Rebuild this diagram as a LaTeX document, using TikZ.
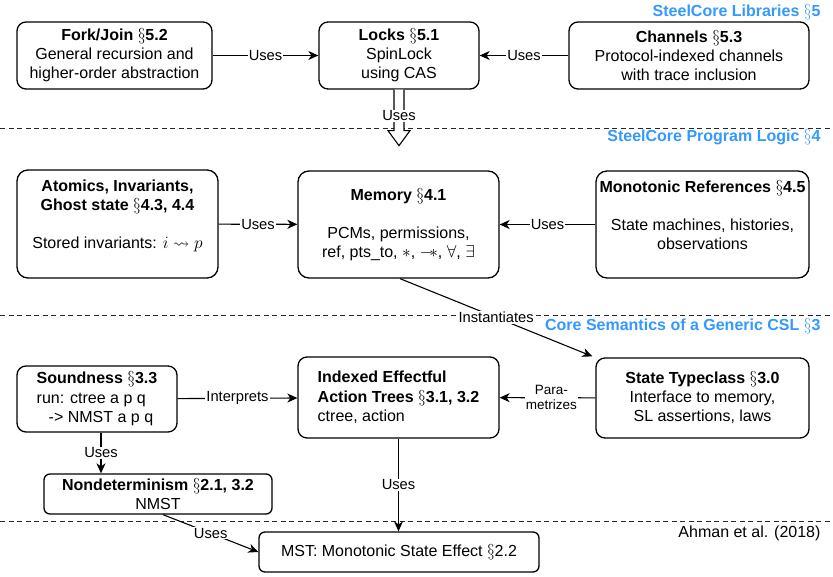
\documentclass[tikz,border=0pt]{standalone}
\usepackage{amssymb}
\usepackage{fontspec}
\setmainfont{Liberation Sans}
\usetikzlibrary{arrows.meta,calc}
\definecolor{hdrblue}{RGB}{51,153,255}
\begin{document}
\begin{tikzpicture}[x=1pt,y=-1pt,
  box/.style={draw, line width=1.3pt, rounded corners=9pt, inner sep=0pt, align=center,
    font=\fontsize{16}{19}\selectfont},
  smallbox/.style={box, rounded corners=6pt},
  edge/.style={line width=1.1pt, -{Stealth[length=10pt,width=9pt,inset=3pt]}},
  lbl/.style={fill=white, inner sep=1pt, font=\fontsize{14.7}{17}\selectfont},
  slbl/.style={fill=white, inner sep=1pt, align=center, font=\fontsize{13.5}{15}\selectfont},
  hdr/.style={anchor=east, text=hdrblue, font=\fontsize{16}{19}\selectfont\bfseries},
  sep/.style={line width=0.9pt, dash pattern=on 5pt off 3.5pt, black!85},
]
\useasboundingbox (0,0) rectangle (833,577);

% layer separators
\draw[sep] (0,128) -- (833,128);
\draw[sep] (0,315) -- (833,315);
\draw[sep] (0,521) -- (833,521);

% layer headers
\node[hdr] (h1) at (824,12) {SteelCore Libraries $\S$5};
\node[hdr] (h2) at (824,137) {SteelCore Program Logic $\S$4};
\node[hdr] (h3) at (824,326) {Core Semantics of a Generic CSL $\S$3};
\node[anchor=east, font=\fontsize{16}{19}\selectfont] (h4) at (824,533) {Ahman et al. (2018)};

% row 1
\node[box, minimum width=195, minimum height=67] (fork) at (114.5,55.5)
  {\textbf{Fork/Join $\S$5.2}\\General recursion and\\higher-order abstraction};
\node[box, minimum width=160, minimum height=67] (locks) at (399,55.5)
  {\textbf{Locks $\S$5.1}\\SpinLock\\using CAS};
\node[box, minimum width=240, minimum height=67] (channels) at (689,55.5)
  {\textbf{Channels $\S$5.3}\\Protocol-indexed channels\\with trace inclusion};

% row 2
\node[box, rounded corners=11pt, minimum width=201, minimum height=108] (atomics) at (117.5,224)
  {\textbf{Atomics, Invariants,}\\\textbf{Ghost state $\S$4.3, 4.4}\\\mbox{}\\Stored invariants: $i \rightsquigarrow p$\\\mbox{}};
\node[box, rounded corners=11pt, minimum width=201, minimum height=107] (memory) at (398.5,224.5)
  {\textbf{Memory $\S$4.1}\\\mbox{}\\PCMs, permissions,\\ref, pts\_to, $\ast$, $-\mkern-4mu\ast$, $\forall$, $\exists$};
\node[box, rounded corners=11pt, minimum width=213, minimum height=107] (mono) at (702.5,224.5)
  {\textbf{Monotonic References $\S$4.5}\\\mbox{}\\State machines, histories,\\observations\\\mbox{}};

% row 3
\node[box, minimum width=160, minimum height=66] (soundness) at (97,399) {};
\node[align=left, inner sep=0pt, font=\fontsize{16}{19.5}\selectfont] (soundtxt) at (soundness.center)
  {\textbf{Soundness $\S$3.3}\\run: ctree a p q\\\hspace*{12pt}-> NMST a p q};
\node[box, minimum width=201, minimum height=81] (indexed) at (398.5,397.5) {};
\node[align=left, inner sep=0pt, font=\fontsize{16}{19.5}\selectfont] (indextxt) at (indexed.center)
  {\textbf{Indexed Effectful}\\\textbf{Action Trees $\S$3.1, 3.2}\\ctree, action};
\node[box, minimum width=213, minimum height=80] (state) at (702.5,398)
  {\textbf{State Typeclass $\S$3.0}\\Interface to memory,\\SL assertions, laws};
\node[smallbox, minimum width=228, minimum height=40] (nondet) at (158,494)
  {\textbf{Nondeterminism $\S$2.1, 3.2}\\NMST};
\node[smallbox, minimum width=280, minimum height=40] (mst) at (399,552)
  {MST: Monotonic State Effect $\S$2.2};

% connectors row 1
\draw[edge] (fork) -- node[lbl] {Uses} (locks);
\draw[edge] (channels) -- node[lbl] {Uses} (locks);
% hollow arrow from Locks to the program-logic layer
\coordinate (ltip) at ($(locks.south)+(0,56)$);
\draw[line width=1.1pt, fill=white, line join=miter]
  ($(locks.south)+(-5,0)$) -- ($(locks.south)+(-5,41)$) -- ($(locks.south)+(-11,41)$)
  -- (ltip) -- ($(locks.south)+(11,41)$) -- ($(locks.south)+(5,41)$) -- ($(locks.south)+(5,0)$);
\node[lbl] (lockuses) at ($(locks.south)+(0,26)$) {Uses};

% connectors row 2
\draw[edge] (atomics) -- node[lbl] {Uses} (memory);
\draw[edge] (mono) -- node[lbl] {Uses} (memory);
\draw[edge] ([xshift=1.5pt]memory.south) -- node[lbl] {Instantiates} ([shift={(-3,-1)}]state.north west);

% connectors row 3
\draw[edge] (soundness) -- node[lbl] {Interprets} (indexed);
\draw[edge] (state) -- node[slbl, pos=0.46] {Para-\\metrizes} (indexed);
\path (soundness.south) ++(4,0) coordinate (sdown);
\draw[edge] (sdown) -- node[lbl] {Uses} (sdown |- nondet.north);
\draw[edge] ([xshift=5pt]nondet.south) -- node[lbl] {Uses} (mst.west);
\draw[edge] (indexed.south) -- node[lbl] {Uses} (indexed.south |- mst.north);
\end{tikzpicture}
\end{document}
